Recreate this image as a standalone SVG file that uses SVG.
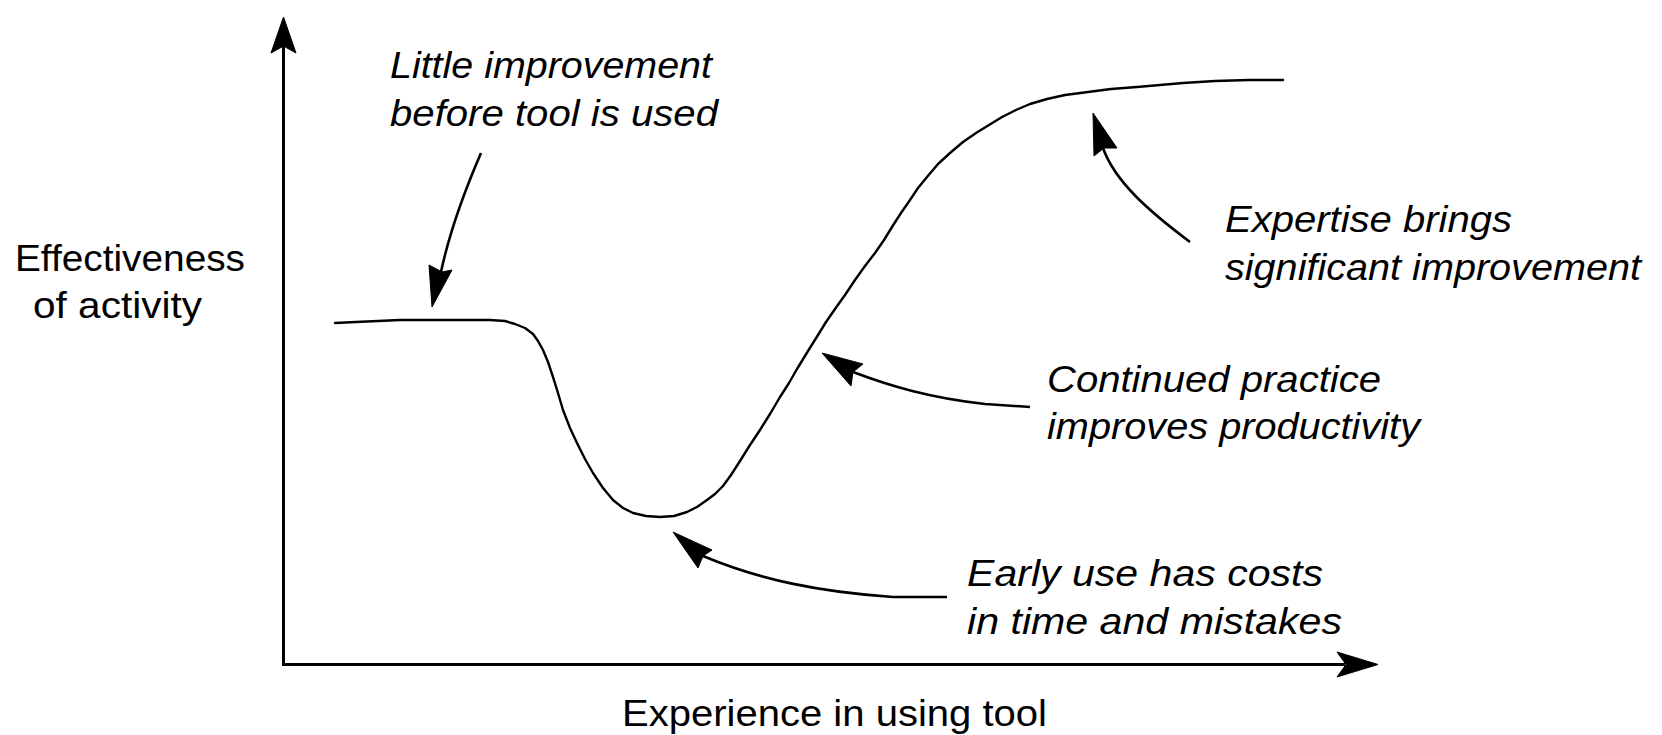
<svg xmlns="http://www.w3.org/2000/svg" width="1662" height="735" viewBox="0 0 1662 735">
<style>
.axis{stroke:#000;stroke-width:3;fill:none}
.curve{stroke:#000;stroke-width:2.4;fill:none;stroke-linejoin:round;stroke-linecap:round}
.conn{stroke:#000;stroke-width:2.6;fill:none;stroke-linecap:butt}
.head{fill:#000;stroke:#000;stroke-width:1}
.lbl{font-family:"Liberation Sans",Arial,sans-serif;font-size:37px;fill:#000}
.it{font-style:italic}
</style>
<rect width="1662" height="735" fill="#fff"/>
<g id="axes">
<line class="axis" x1="283.5" y1="45" x2="283.5" y2="665.5"/>
<line class="axis" x1="282" y1="664.5" x2="1345" y2="664.5"/>
<polygon class="head" points="283.5,17 296,53 283.5,46 271,53"/>
<polygon class="head" points="1378,664.5 1337,652 1346,664.5 1337,677"/>
</g>
<g id="curve">
<path class="curve" d="M335,323 L356,322 L400,320 L490,320 L505,321 L515,324 L525,328 L533,334 L538,341 L543,350 L548,362 L553,377 L558,393 L563,410 L570,428 L577,443 L585,459 L593,473 L603,488 L613,500 L623,508 L633,513 L646,516 L660,517 L674,516 L687,512 L697,507 L707,500 L715,494 L723,486 L731,475 L740,461 L750,445 L760,430 L770,414 L780,397 L789,383 L797,369 L808,351 L818,335 L826,322 L835,309 L845,295 L855,280 L865,266 L875,253 L884,240 L892,227 L901,213 L910,200 L918,188 L927,177 L938,164 L950,153 L963,142 L976,133 L989,125 L1002,117 L1016,110 L1030,104 L1047,99 L1065,95 L1088,92 L1111,89 L1137,87 L1160,85 L1183,83 L1215,81 L1249,80 L1283,80"/>
</g>
<g id="connectors">
<path class="conn" d="M481,153 Q452,220 441,272"/>
<polygon class="head" points="432,307 429,265 442,272 452,270"/>
<path class="conn" d="M1190,242 C1150,212 1115,182 1103,148"/>
<polygon class="head" points="1093,113 1117,148 1104,148 1094,156"/>
<path class="conn" d="M1030,407 L985,404 C930,398 890,386 853,372"/>
<polygon class="head" points="822,353 863,364 853,372 851,386"/>
<path class="conn" d="M947,597 L893,597 C820,592 760,580 703,556"/>
<polygon class="head" points="673,532 712,550 703,556 698,568"/>
</g>
<g id="label-y">
<text class="lbl" x="15" y="271" textLength="230" lengthAdjust="spacingAndGlyphs">Effectiveness</text>
<text class="lbl" x="33" y="318" textLength="169" lengthAdjust="spacingAndGlyphs">of activity</text>
</g>
<g id="label-x">
<text class="lbl" x="622" y="726" textLength="425" lengthAdjust="spacingAndGlyphs">Experience in using tool</text>
</g>
<g id="note-little">
<text class="lbl it" x="390" y="78" textLength="322" lengthAdjust="spacingAndGlyphs">Little improvement</text>
<text class="lbl it" x="390" y="126" textLength="328" lengthAdjust="spacingAndGlyphs">before tool is used</text>
</g>
<g id="note-expertise">
<text class="lbl it" x="1225" y="232" textLength="287" lengthAdjust="spacingAndGlyphs">Expertise brings</text>
<text class="lbl it" x="1225" y="280" textLength="416" lengthAdjust="spacingAndGlyphs">significant improvement</text>
</g>
<g id="note-continued">
<text class="lbl it" x="1047" y="392" textLength="334" lengthAdjust="spacingAndGlyphs">Continued practice</text>
<text class="lbl it" x="1047" y="439" textLength="373" lengthAdjust="spacingAndGlyphs">improves productivity</text>
</g>
<g id="note-early">
<text class="lbl it" x="967" y="586" textLength="356" lengthAdjust="spacingAndGlyphs">Early use has costs</text>
<text class="lbl it" x="967" y="634" textLength="375" lengthAdjust="spacingAndGlyphs">in time and mistakes</text>
</g>
</svg>
